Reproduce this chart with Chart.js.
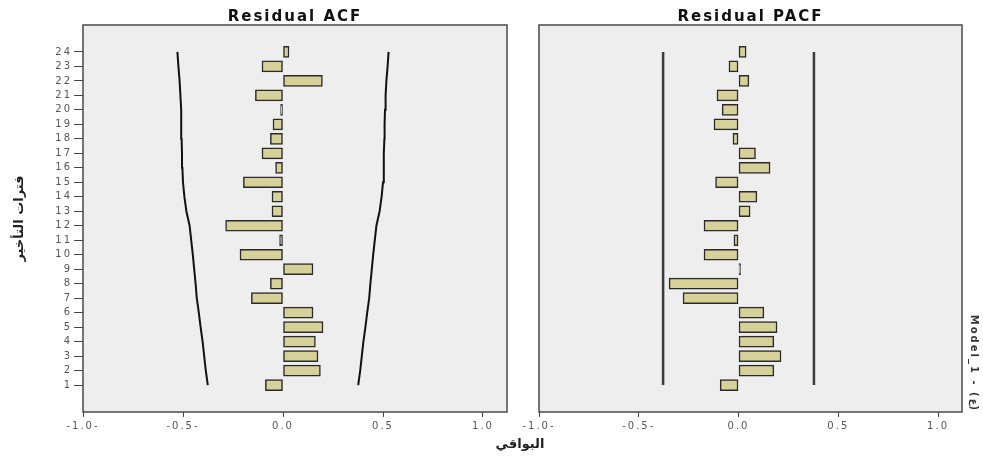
<!DOCTYPE html>
<html>
<head>
<meta charset="utf-8">
<script src="https://cdn.jsdelivr.net/npm/chart.js@4"></script>
<style>
    body { margin: 0; background: #fff; width: 983px; height: 460px; position: relative; overflow: hidden; }
    canvas { position: absolute; top: 0; }
    #acfChart { left: 0; }
    #pacfChart { left: 515px; }
    #xTitle {
        position: absolute; left: 470px; top: 436px; width: 100px;
        text-align: center; direction: rtl;
        font: bold 13px "DejaVu Sans", sans-serif; color: #222; line-height: 16px;
    }
</style>
</head>
<body>
<canvas id="acfChart" width="515" height="460"></canvas>
<canvas id="pacfChart" width="468" height="460"></canvas>
<div id="xTitle">البواقي</div>

<script>
// lags shown on the vertical axis
const lags = [1, 2, 3, 4, 5, 6, 7, 8, 9, 10, 11, 12, 13, 14, 15, 16, 17, 18, 19, 20, 21, 22, 23, 24];

// residual ACF per lag
const acfValues = [-0.088, 0.187, 0.175, 0.162, 0.2, 0.15, -0.158, -0.063, 0.15, -0.215, -0.017, -0.287,
    -0.055, -0.055, -0.198, -0.037, -0.105, -0.063, -0.05, -0.012, -0.138, 0.197, -0.105, 0.03];

// ACF confidence limit (upper, lower is the negative)
const acfLimit = [0.376, 0.386, 0.394, 0.402, 0.412, 0.421, 0.431, 0.437, 0.444, 0.451, 0.459, 0.467,
    0.483, 0.493, 0.5, 0.503, 0.505, 0.507, 0.508, 0.51, 0.513, 0.517, 0.523, 0.528];

// residual PACF per lag
const pacfValues = [-0.092, 0.177, 0.213, 0.177, 0.193, 0.127, -0.278, -0.348, 0.01, -0.173, -0.023, -0.173,
    0.058, 0.092, -0.115, 0.158, 0.085, -0.028, -0.123, -0.082, -0.108, 0.052, -0.048, 0.038];

const pacfLimit = 0.378;

const xTickValues = [-1, -0.5, 0, 0.5, 1];
const xTickLabels = ["-1.0-", "-0.5-", "0.0", "0.5", "1.0"];

const barFill = "#d5d199";
const barEdge = "#2a2a2a";

// grey panel + frame, and a little letter spacing for the latin labels
const panelFrame = {
    id: "panelFrame",
    beforeDraw(chart) {
        const { ctx, chartArea: a } = chart;
        ctx.save();
        ctx.fillStyle = "#eeeeee";
        ctx.fillRect(a.left, a.top, a.right - a.left, a.bottom - a.top);
        ctx.restore();
        ctx.letterSpacing = "2px";
    },
    afterDatasetsDraw(chart) {
        chart.ctx.letterSpacing = "0px";
    },
    afterDraw(chart) {
        const { ctx, chartArea: a } = chart;
        ctx.save();
        ctx.strokeStyle = "#4a4a4a";
        ctx.lineWidth = 1.5;
        ctx.strokeRect(a.left, a.top, a.right - a.left, a.bottom - a.top);
        ctx.restore();
    }
};

const tickFont = { family: "DejaVu Sans", size: 10 };

function xScale() {
    return {
        type: "linear",
        min: -1,
        max: 1.12,
        afterBuildTicks: s => { s.ticks = xTickValues.map(v => ({ value: v })); },
        ticks: {
            callback: (v, i) => xTickLabels[i],
            font: tickFont,
            color: "#555",
            padding: 3,
            maxRotation: 0,
            autoSkip: false
        },
        grid: { drawOnChartArea: false, drawTicks: true, tickLength: 5, color: "#444", offset: false },
        border: { display: false },
        afterFit: s => { s.height = 48; }
    };
}

function barSet(values) {
    return {
        type: "bar",
        data: lags.map((lag, i) => ({ x: values[i], y: lag })),
        backgroundColor: barFill,
        borderColor: barEdge,
        borderWidth: 1.5,
        borderSkipped: false,
        barThickness: 11
    };
}

function limitLine(points, width, color) {
    return {
        type: "line",
        data: points,
        borderColor: color,
        borderWidth: width,
        pointRadius: 0,
        fill: false
    };
}

function titleOpts(text) {
    return {
        display: true,
        text: text,
        fullSize: false,
        color: "#111",
        font: { family: "DejaVu Sans", size: 15, weight: "bold", lineHeight: 1 },
        padding: { top: 10, bottom: 0 }
    };
}

new Chart(document.getElementById("acfChart"), {
    data: {
        datasets: [
            barSet(acfValues),
            limitLine(lags.map((lag, i) => ({ x: -acfLimit[i], y: lag })), 2, "#111"),
            limitLine(lags.map((lag, i) => ({ x: acfLimit[i], y: lag })), 2, "#111")
        ]
    },
    options: {
        indexAxis: "y",
        responsive: false,
        animation: false,
        layout: { padding: { left: 0, right: 8, top: 0, bottom: 0 } },
        plugins: {
            legend: { display: false },
            tooltip: { enabled: false },
            title: titleOpts("Residual ACF")
        },
        scales: {
            x: xScale(),
            y: {
                type: "linear",
                min: -0.86,
                max: 25.86,
                offset: false,
                afterBuildTicks: s => { s.ticks = lags.map(v => ({ value: v })); },
                ticks: {
                    callback: (v, i) => String(lags[i]),
                    font: tickFont,
                    color: "#555",
                    padding: 2,
                    autoSkip: false
                },
                grid: { drawOnChartArea: false, drawTicks: true, tickLength: 9, color: "#444", offset: false, z: 1 },
                border: { display: false },
                title: {
                    display: true,
                    text: "فترات التأخير",
                    color: "#222",
                    font: { family: "DejaVu Sans", size: 13, weight: "bold" },
                    padding: { top: 12, bottom: 0 }
                },
                afterFit: s => { s.width = 83; }
            }
        }
    },
    plugins: [panelFrame]
});

new Chart(document.getElementById("pacfChart"), {
    data: {
        datasets: [
            barSet(pacfValues),
            limitLine(lags.map(lag => ({ x: -pacfLimit, y: lag })), 2.5, "#3a3a3a"),
            limitLine(lags.map(lag => ({ x: pacfLimit, y: lag })), 2.5, "#3a3a3a")
        ]
    },
    options: {
        indexAxis: "y",
        responsive: false,
        animation: false,
        layout: { padding: 0 },
        plugins: {
            legend: { display: false },
            tooltip: { enabled: false },
            title: titleOpts("Residual PACF")
        },
        scales: {
            x: xScale(),
            y: {
                type: "linear",
                min: -0.86,
                max: 25.86,
                offset: false,
                ticks: { display: false },
                grid: { display: false },
                border: { display: false },
                afterFit: s => { s.width = 24; }
            },
            yRight: {
                type: "linear",
                position: "right",
                ticks: { display: false },
                grid: { display: false },
                border: { display: false },
                title: {
                    display: true,
                    text: "Model_1 - (ع)",
                    align: "start",
                    color: "#333",
                    font: { family: "DejaVu Sans", size: 10, weight: "bold" },
                    padding: { top: 3, bottom: 0 }
                },
                afterFit: s => { s.width = 21; }
            }
        }
    },
    plugins: [panelFrame]
});
</script>
</body>
</html>
